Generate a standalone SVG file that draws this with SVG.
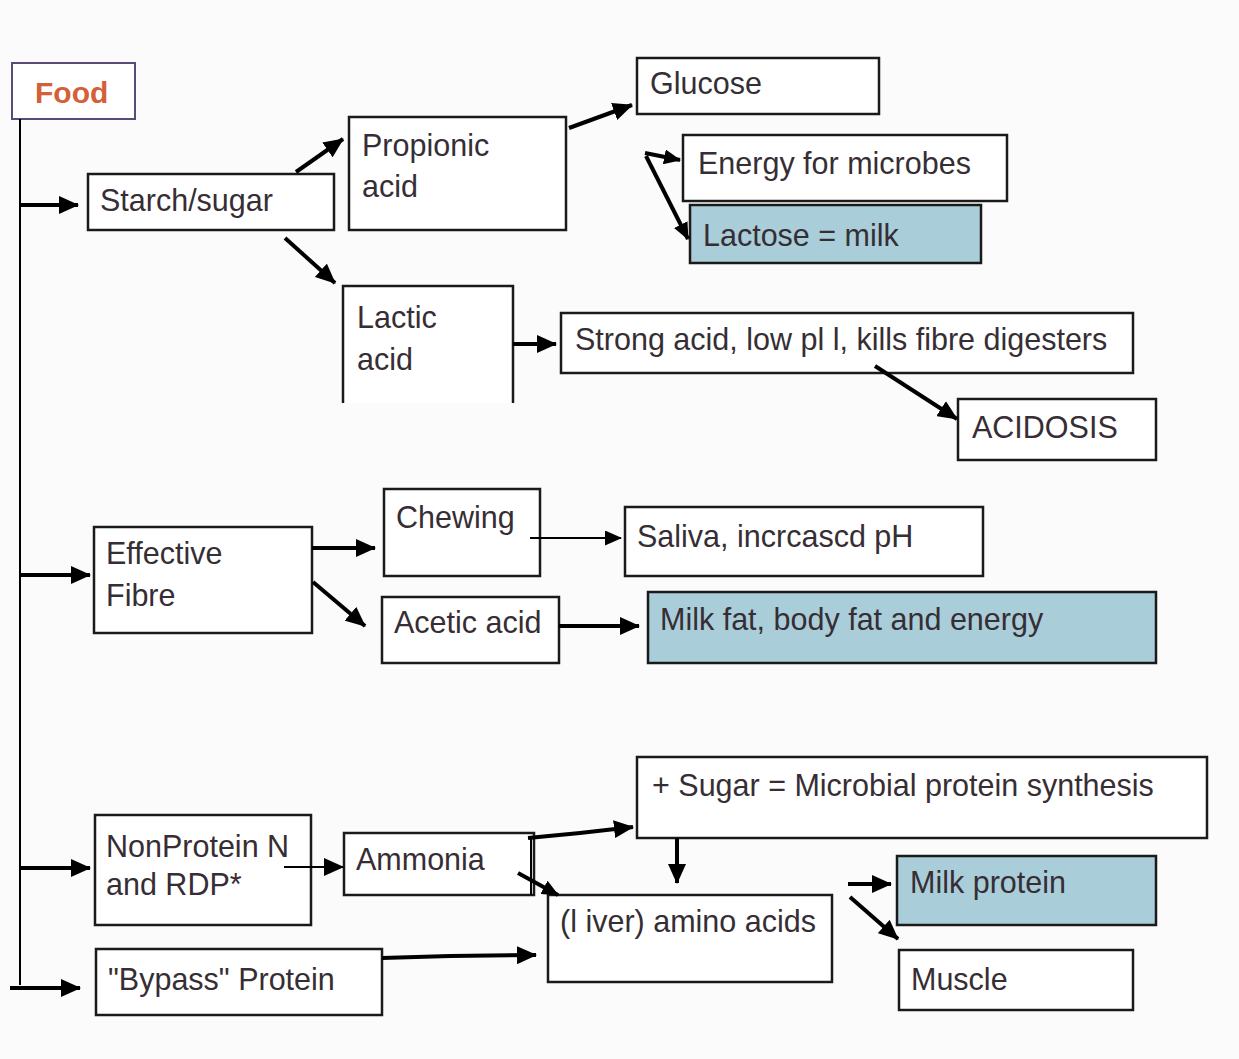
<svg xmlns="http://www.w3.org/2000/svg" width="1239" height="1059" viewBox="0 0 1239 1059">
<style>
.box{fill:#ffffff;stroke:#1a1a1a;stroke-width:2.5}
.blue{fill:#a9cdd9;stroke:#1a1a1a;stroke-width:2.5}
.t{font-family:"Liberation Sans",Arial,sans-serif;font-size:30.5px;fill:#362e34}
.c{stroke:#000;stroke-width:4;fill:none}
.thin{stroke:#000;stroke-width:2;fill:none}
</style>
<defs>
<marker id="ah" markerUnits="userSpaceOnUse" markerWidth="20" markerHeight="18" refX="19" refY="9" orient="auto">
<path d="M0,0 L20,9 L0,18 z" fill="#000"/>
</marker>
<marker id="ahs" markerUnits="userSpaceOnUse" markerWidth="17" markerHeight="15" refX="16" refY="7.5" orient="auto">
<path d="M0,0 L17,7.5 L0,15 z" fill="#000"/>
</marker>
</defs>
<rect width="1239" height="1059" fill="#fbfbfb"/>
<g id="food">
<rect x="12" y="63" width="123" height="56" fill="#fff" stroke="#5a4a78" stroke-width="2"/>
<text x="35" y="103" font-family="Liberation Sans,Arial,sans-serif" font-size="30" font-weight="bold" fill="#d4603a">Food</text>
</g>
<g id="starch"><rect class="box" x="88" y="174" width="246" height="56"/><text class="t" x="100" y="211">Starch/sugar</text></g>
<g id="propionic"><rect class="box" x="349" y="117" width="217" height="113"/><text class="t" x="362" y="156">Propionic</text><text class="t" x="362" y="197">acid</text></g>
<g id="glucose"><rect class="box" x="637" y="58" width="242" height="56"/><text class="t" x="650" y="94">Glucose</text></g>
<g id="energy"><rect class="box" x="683" y="135" width="324" height="66"/><text class="t" x="698" y="174">Energy for microbes</text></g>
<g id="lactose"><rect class="blue" x="690" y="205" width="291" height="58"/><text class="t" x="703" y="246">Lactose = milk</text></g>
<g id="lactic"><path d="M343,403 V286 H513 V403" fill="#fff" stroke="#1a1a1a" stroke-width="2.5"/><text class="t" x="357" y="328">Lactic</text><text class="t" x="357" y="370">acid</text></g>
<g id="strong"><rect class="box" x="561" y="313" width="572" height="60"/><text class="t" x="575" y="350">Strong acid, low pl l, kills fibre digesters</text></g>
<g id="acidosis"><rect class="box" x="958" y="399" width="198" height="61"/><text class="t" x="972" y="438">ACIDOSIS</text></g>
<g id="fibre"><rect class="box" x="94" y="527" width="218" height="106"/><text class="t" x="106" y="564">Effective</text><text class="t" x="106" y="606">Fibre</text></g>
<g id="chewing"><rect class="box" x="384" y="489" width="156" height="87"/><text class="t" x="396" y="528">Chewing</text></g>
<g id="saliva"><rect class="box" x="625" y="507" width="358" height="69"/><text class="t" x="637" y="547">Saliva, incrcascd pH</text></g>
<g id="acetic"><rect class="box" x="382" y="597" width="177" height="66"/><text class="t" x="394" y="633">Acetic acid</text></g>
<g id="milkfat"><rect class="blue" x="648" y="592" width="508" height="71"/><text class="t" x="660" y="630">Milk fat, body fat and energy</text></g>
<g id="sugar"><rect class="box" x="637" y="757" width="570" height="81"/><text class="t" x="652" y="796">+ Sugar = Microbial protein synthesis</text></g>
<g id="npn"><rect class="box" x="95" y="815" width="216" height="110"/><text class="t" x="106" y="857">NonProtein N</text><text class="t" x="106" y="895">and RDP*</text></g>
<g id="ammonia"><rect class="box" x="344" y="833" width="190" height="62"/><text class="t" x="356" y="870">Ammonia</text></g>
<g id="liver"><rect class="box" x="548" y="895" width="284" height="87"/><text class="t" x="560" y="932">(l iver) amino acids</text></g>
<g id="milkprotein"><rect class="blue" x="897" y="856" width="259" height="69"/><text class="t" x="910" y="893">Milk protein</text></g>
<g id="muscle"><rect class="box" x="899" y="950" width="234" height="60"/><text class="t" x="911" y="990">Muscle</text></g>
<g id="bypass"><rect class="box" x="96" y="949" width="286" height="66"/><text class="t" x="108" y="990">"Bypass" Protein</text></g>
<g id="connectors">
<path class="thin" d="M20,119 V985" stroke-width="2.5"/>
<line class="c" x1="20" y1="205" x2="78" y2="205" marker-end="url(#ah)"/>
<line class="c" x1="20" y1="575" x2="90" y2="575" marker-end="url(#ah)"/>
<line class="c" x1="20" y1="868" x2="90" y2="868" marker-end="url(#ah)"/>
<line class="c" x1="10" y1="988" x2="80" y2="988" marker-end="url(#ah)"/>
<line class="c" x1="296" y1="172" x2="343" y2="139" marker-end="url(#ah)"/>
<line class="c" x1="285" y1="238" x2="335" y2="283" marker-end="url(#ah)"/>
<line class="c" x1="569" y1="128" x2="632" y2="105" marker-end="url(#ah)"/>
<line class="c" x1="645" y1="153" x2="680" y2="160" marker-end="url(#ahs)"/>
<line class="c" x1="646" y1="156" x2="688" y2="239" marker-end="url(#ahs)"/>
<line class="c" x1="513" y1="344" x2="556" y2="344" marker-end="url(#ah)"/>
<line class="c" x1="875" y1="366" x2="957" y2="419" marker-end="url(#ah)"/>
<line class="c" x1="312" y1="548" x2="375" y2="548" marker-end="url(#ah)" stroke-width="6"/>
<line class="c" x1="313" y1="582" x2="365" y2="626" marker-end="url(#ah)"/>
<line class="thin" x1="530" y1="538" x2="621" y2="538" marker-end="url(#ahs)"/>
<line class="c" x1="559" y1="626" x2="639" y2="626" marker-end="url(#ah)"/>
<line class="thin" x1="284" y1="867" x2="343" y2="867" marker-end="url(#ah)"/>
<path class="thin" d="M531,838 V895"/>
<path class="c" d="M528,838 L580,833 L633,827" marker-end="url(#ah)"/>
<line class="c" x1="518" y1="873" x2="558" y2="895" marker-end="url(#ahs)"/>
<line class="c" x1="677" y1="838" x2="677" y2="883" marker-end="url(#ah)"/>
<path class="c" d="M382,958 L450,956 L536,955" marker-end="url(#ah)"/>
<line class="c" x1="848" y1="884" x2="891" y2="884" marker-end="url(#ah)"/>
<line class="c" x1="850" y1="897" x2="898" y2="939" marker-end="url(#ah)"/>
</g>
</svg>
